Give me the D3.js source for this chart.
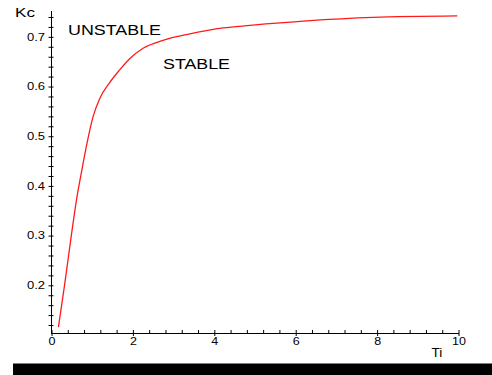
<!DOCTYPE html>
<html>
<head>
<meta charset="utf-8">
<script src="https://cdn.jsdelivr.net/npm/d3@7/dist/d3.min.js"></script>
<style>
  html, body { margin: 0; padding: 0; background: #fff; }
  svg { display: block; }
  text { font-family: "Liberation Sans", Arial, sans-serif; fill: #000; }
</style>
</head>
<body>
<svg id="chart" width="492" height="375"></svg>
<script>
// Stability boundary: controller gain Kc against integral time Ti
const tiValues = [0.17, 0.32, 0.46, 0.62, 0.76, 0.87, 1.02, 1.18, 1.43, 1.67, 1.92, 2.25, 2.74, 3.40, 4.22, 4.88, 6.27, 7.90, 9.97];
const kcValues = [0.116, 0.200, 0.284, 0.375, 0.438, 0.485, 0.539, 0.575, 0.608, 0.633, 0.656, 0.677, 0.693, 0.706, 0.718, 0.723, 0.732, 0.739, 0.742];

const xMajorTicks = [0, 2, 4, 6, 8, 10];
const yMajorTicks = [0.2, 0.3, 0.4, 0.5, 0.6, 0.7];

const regionLabels = ["UNSTABLE", "STABLE"];
const xTitle = "Ti";
const yTitle = "Kc";

const svg = d3.select("#chart");

const x = d3.scaleLinear().domain([0, 10]).range([51.5, 458.5]);
const y = d3.scaleLinear().domain([0.103, 0.753]).range([333.5, 10.5]);

const xMinor = d3.range(0, 10.001, 0.4).map(v => +v.toFixed(2));
const yMinor = d3.range(0.12, 0.7401, 0.02).map(v => +v.toFixed(2));

const isMajor = (list, v) => list.some(m => Math.abs(m - v) < 1e-6);

// stretch tick/label glyphs horizontally
function stretch(sel, k) {
  sel.each(function () {
    const w = this.getComputedTextLength();
    d3.select(this).attr("textLength", w * k).attr("lengthAdjust", "spacingAndGlyphs");
  });
}

// x axis
const xAxis = svg.append("g")
  .attr("transform", "translate(0,333)")
  .call(d3.axisBottom(x)
    .tickValues(xMinor)
    .tickSize(0)
    .tickPadding(5)
    .tickFormat(v => isMajor(xMajorTicks, v) ? d3.format("d")(v) : ""));
xAxis.select(".domain").attr("stroke", "#000").attr("stroke-width", 1);
xAxis.selectAll(".tick line")
  .attr("stroke", "#000")
  .attr("y1", -3)
  .attr("y2", d => isMajor(xMajorTicks, d) ? 3 : 0.5);
xAxis.selectAll(".tick text").attr("font-size", 10).attr("font-family", "Liberation Sans, Arial, sans-serif").call(stretch, 1.25);

// y axis
const yAxis = svg.append("g")
  .attr("transform", "translate(51,0)")
  .call(d3.axisLeft(y)
    .tickValues(yMinor)
    .tickSize(0)
    .tickPadding(6)
    .tickFormat(v => isMajor(yMajorTicks, v) ? d3.format(".1f")(v) : ""));
yAxis.select(".domain").attr("stroke", "#000").attr("stroke-width", 1);
yAxis.selectAll(".tick line")
  .attr("stroke", "#000")
  .attr("x1", -2.5)
  .attr("x2", 2.5);
yAxis.selectAll(".tick text").attr("font-size", 10).attr("font-family", "Liberation Sans, Arial, sans-serif").call(stretch, 1.3);

// boundary curve
const pts = tiValues.map((t, i) => [t, kcValues[i]]);
svg.append("path")
  .datum(pts)
  .attr("fill", "none")
  .attr("stroke", "#ff1a1a")
  .attr("stroke-width", 1.3)
  .attr("d", d3.line().curve(d3.curveMonotoneX).x(d => x(d[0])).y(d => y(d[1])));

// axis titles
svg.append("text").attr("x", 15).attr("y", 17).attr("font-size", 12.5)
  .attr("textLength", 20).attr("lengthAdjust", "spacingAndGlyphs").text(yTitle);
svg.append("text").attr("x", 431.5).attr("y", 357).attr("font-size", 13.5)
  .text(xTitle);

// region labels
svg.append("text").attr("x", 68).attr("y", 35).attr("font-size", 14)
  .attr("textLength", 93).attr("lengthAdjust", "spacingAndGlyphs").text(regionLabels[0]);
svg.append("text").attr("x", 163).attr("y", 68.5).attr("font-size", 14)
  .attr("textLength", 67).attr("lengthAdjust", "spacingAndGlyphs").text(regionLabels[1]);

// footer band
svg.append("rect").attr("x", 13).attr("y", 363.5).attr("width", 479).attr("height", 12).attr("fill", "#000");
</script>
</body>
</html>
